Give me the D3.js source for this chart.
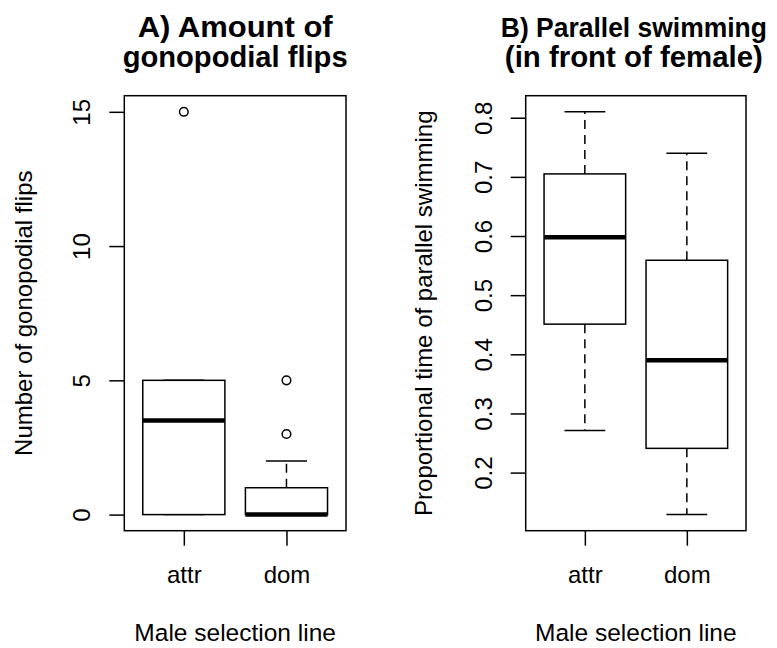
<!DOCTYPE html>
<html>
<head>
<meta charset="utf-8">
<script src="https://cdn.jsdelivr.net/npm/d3@7"></script>
<style>
  html, body { margin: 0; padding: 0; background: #fff; }
  svg { display: block; }
  text { font-family: Arial, "Liberation Sans", sans-serif; fill: #000; }
</style>
</head>
<body>
<svg id="chart" width="777" height="648"></svg>
<script>
// ---- data ----
const categories = ["attr", "dom"];

// Panel A: number of gonopodial flips
const flipsLowerWhisker = [0, 0];
const flipsQ1 = [0, 0];
const flipsMedian = [3.5, 0];
const flipsQ3 = [5, 1];
const flipsUpperWhisker = [5, 2];
const flipsOutliers = [[15], [3, 5]];
const flipsTicks = [0, 5, 10, 15];

// Panel B: proportional time of parallel swimming
const swimLowerWhisker = [0.271, 0.129];
const swimQ1 = [0.451, 0.241];
const swimMedian = [0.598, 0.390];
const swimQ3 = [0.705, 0.559];
const swimUpperWhisker = [0.810, 0.740];
const swimOutliers = [[], []];
const swimTicks = [0.2, 0.3, 0.4, 0.5, 0.6, 0.7, 0.8];

const titlesA = ["A) Amount of", "gonopodial flips"];
const titlesB = ["B) Parallel swimming", "(in front of female)"];
const yLabelA = "Number of gonopodial flips";
const yLabelB = "Proportional time of parallel swimming";
const xLabel = "Male selection line";

// ---- drawing ----
const svg = d3.select("#chart");
const FS = 24;
const LW = 1.5;

function panel(opts) {
  const { left, right, top, bottom } = opts;
  const g = svg.append("g");

  // y domain: data range expanded by 4% (R default)
  const all = [].concat(opts.low, opts.high, opts.q1, opts.q3, ...opts.outliers);
  const [mn, mx] = d3.extent(all);
  const pad = (mx - mn) * 0.04;
  const y = d3.scaleLinear().domain([mn - pad, mx + pad]).range([bottom, top]);
  const x = d3.scaleLinear().domain([0.42, 2.58]).range([left, right]);
  const halfBox = (x(1.4) - x(1));   // box width 0.8 units
  const halfCap = halfBox / 2;

  const data = categories.map((c, i) => ({
    cat: c, pos: i + 1,
    low: opts.low[i], q1: opts.q1[i], med: opts.median[i], q3: opts.q3[i], high: opts.high[i],
    out: opts.outliers[i]
  }));

  const boxes = g.selectAll("g.box").data(data).join("g").attr("class", "box");

  // whiskers (dashed)
  boxes.append("line")
    .attr("x1", d => x(d.pos)).attr("x2", d => x(d.pos))
    .attr("y1", d => y(d.q3)).attr("y2", d => y(d.high))
    .attr("stroke", "#000").attr("stroke-width", LW).attr("stroke-dasharray", "9,6")
    .attr("display", d => d.high > d.q3 ? null : "none");
  boxes.append("line")
    .attr("x1", d => x(d.pos)).attr("x2", d => x(d.pos))
    .attr("y1", d => y(d.q1)).attr("y2", d => y(d.low))
    .attr("stroke", "#000").attr("stroke-width", LW).attr("stroke-dasharray", "9,6")
    .attr("display", d => d.low < d.q1 ? null : "none");
  // whisker caps
  boxes.append("line")
    .attr("x1", d => x(d.pos) - halfCap).attr("x2", d => x(d.pos) + halfCap)
    .attr("y1", d => y(d.high)).attr("y2", d => y(d.high))
    .attr("stroke", "#000").attr("stroke-width", LW);
  boxes.append("line")
    .attr("x1", d => x(d.pos) - halfCap).attr("x2", d => x(d.pos) + halfCap)
    .attr("y1", d => y(d.low)).attr("y2", d => y(d.low))
    .attr("stroke", "#000").attr("stroke-width", LW);
  // box
  boxes.append("rect")
    .attr("x", d => x(d.pos) - halfBox).attr("width", 2 * halfBox)
    .attr("y", d => y(d.q3)).attr("height", d => y(d.q1) - y(d.q3))
    .attr("fill", "#fff").attr("stroke", "#000").attr("stroke-width", LW);
  // median
  boxes.append("line")
    .attr("x1", d => x(d.pos) - halfBox).attr("x2", d => x(d.pos) + halfBox)
    .attr("y1", d => y(d.med)).attr("y2", d => y(d.med))
    .attr("stroke", "#000").attr("stroke-width", 4.5);
  // outliers
  boxes.selectAll("circle").data(d => d.out.map(v => ({ pos: d.pos, v }))).join("circle")
    .attr("cx", d => x(d.pos)).attr("cy", d => y(d.v)).attr("r", 4.3)
    .attr("fill", "none").attr("stroke", "#000").attr("stroke-width", LW);

  // frame
  g.append("rect").attr("x", left).attr("y", top)
    .attr("width", right - left).attr("height", bottom - top)
    .attr("fill", "none").attr("stroke", "#000").attr("stroke-width", LW);

  // y axis
  const ya = g.append("g").attr("transform", `translate(${left},0)`)
    .call(d3.axisLeft(y).tickValues(opts.ticks).tickSize(15).tickFormat(d3.format("")));
  ya.select(".domain").remove();
  ya.selectAll(".tick line").attr("stroke", "#000").attr("stroke-width", LW);
  ya.selectAll(".tick text")
    .attr("transform", "rotate(-90)")
    .attr("x", 0).attr("y", -34).attr("dy", null).attr("dx", null)
    .attr("text-anchor", "middle")
    .style("font-size", FS + "px").style("font-family", "Arial, 'Liberation Sans', sans-serif").attr("fill", "#000");

  // x axis
  const xa = g.append("g").attr("transform", `translate(0,${bottom})`)
    .call(d3.axisBottom(x).tickValues(data.map(d => d.pos)).tickSize(15)
      .tickFormat(v => categories[v - 1]));
  xa.select(".domain").remove();
  xa.selectAll(".tick line").attr("stroke", "#000").attr("stroke-width", LW);
  xa.selectAll(".tick text")
    .attr("y", 52).attr("dy", null)
    .style("font-size", FS + "px").style("font-family", "Arial, 'Liberation Sans', sans-serif").attr("fill", "#000");

  const cx = (left + right) / 2;
  const cy = (top + bottom) / 2;

  // x label
  g.append("text").attr("x", cx).attr("y", 641).attr("text-anchor", "middle")
    .style("font-size", "24.5px").text(xLabel);
  // y label
  g.append("text").attr("transform", `translate(${opts.yLabelX},${cy}) rotate(-90)`)
    .attr("text-anchor", "middle").style("font-size", FS + "px").text(opts.yLabel);
  // title
  g.selectAll("text.title").data(opts.title).join("text").attr("class", "title")
    .attr("x", cx + opts.titleShift).attr("y", (d, i) => 37 + i * 30)
    .attr("text-anchor", "middle")
    .attr("textLength", (d, i) => opts.titleWidths[i])
    .attr("lengthAdjust", "spacingAndGlyphs")
    .style("font-size", (d, i) => opts.titleSizes[i] + "px").style("font-weight", "bold").text(d => d);
}

panel({
  left: 124.3, right: 346, top: 95.7, bottom: 530.7,
  low: flipsLowerWhisker, q1: flipsQ1, median: flipsMedian, q3: flipsQ3, high: flipsUpperWhisker,
  outliers: flipsOutliers, ticks: flipsTicks, title: titlesA, titleWidths: [195, 225],
  titleSizes: [28.8, 28.8], titleShift: 0,
  yLabel: yLabelA, yLabelX: 32
});
panel({
  left: 525.7, right: 746, top: 95.7, bottom: 530.7,
  low: swimLowerWhisker, q1: swimQ1, median: swimMedian, q3: swimQ3, high: swimUpperWhisker,
  outliers: swimOutliers, ticks: swimTicks, title: titlesB, titleWidths: [266, 258],
  titleSizes: [26.8, 28.8], titleShift: -2,
  yLabel: yLabelB, yLabelX: 432
});
</script>
</body>
</html>
